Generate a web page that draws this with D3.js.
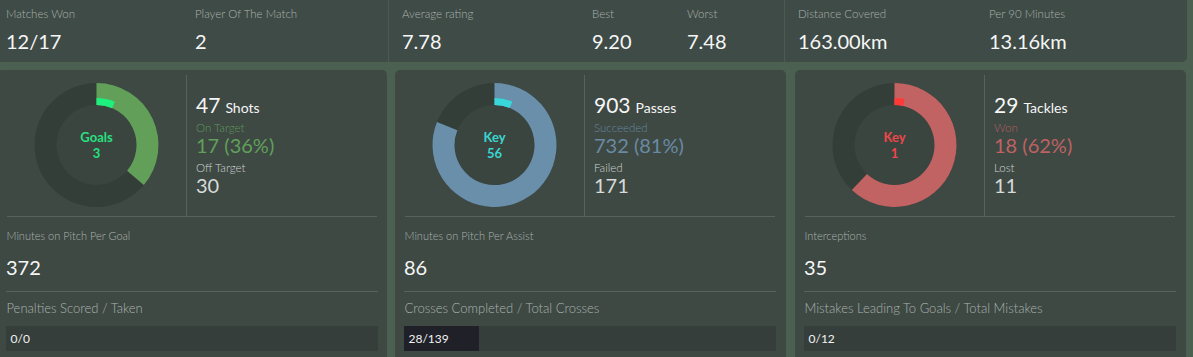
<!DOCTYPE html>
<html>
<head>
<meta charset="utf-8">
<script src="https://cdn.jsdelivr.net/npm/d3@7"></script>
<style>
html,body{margin:0;padding:0;background:#4c6052;}
svg{display:block;font-family:Lato,"Noto Sans",sans-serif;}
</style>
</head>
<body>
<svg id="chart" width="1193" height="357"></svg>
<script>
// ---- data ----
const topLabels = ["Matches Won","Player Of The Match","Average rating","Best","Worst","Distance Covered","Per 90 Minutes"];
const topValues = ["12/17","2","7.78","9.20","7.48","163.00km","13.16km"];

const donutNames = ["Shots","Passes","Tackles"];
const donutTotals = [47, 903, 29];
const donutSuccess = [17, 732, 18];
const donutKey = [3, 56, 1];
const keyLabels = ["Goals","Key","Key"];
const successLabels = ["On Target","Succeeded","Won"];
const failLabels = ["Off Target","Failed","Lost"];

const midLabels = ["Minutes on Pitch Per Goal","Minutes on Pitch Per Assist","Interceptions"];
const midValues = [372, 86, 35];

const barLabels = ["Penalties Scored / Taken","Crosses Completed / Total Crosses","Mistakes Leading To Goals / Total Mistakes"];
const barDone = [0, 28, 0];
const barTotal = [0, 139, 12];

// ---- styling / layout ----
const mainCol = ["#62a05a","#6a8fab","#c26363"];
const keyCol = ["#1df07c","#38d8d8","#ff3838"];
const keyTextCol = ["#28e07f","#3ad6d0","#ef4648"];
const succLabelCol = ["#5d9757","#67869e","#b35e5e"];
const succValCol = ["#60a05a","#6a8aa3","#bf6262"];

const svg = d3.select("#chart");
svg.append("rect").attr("width",1193).attr("height",357).attr("fill","#4c6052");

// top bar
svg.append("rect").attr("x",-6).attr("y",-6).attr("width",1193).attr("height",68).attr("rx",5).attr("fill","#3f4b46");
[388,784].forEach(x=>svg.append("line").attr("x1",x+0.5).attr("x2",x+0.5).attr("y1",0).attr("y2",62).attr("stroke","#4d5a54"));
const topX = [6,195,402,592,687,798,989];
topLabels.forEach((t,i)=>{
  svg.append("text").attr("x",topX[i]).attr("y",18).attr("font-size",11.5).attr("font-weight",300).attr("fill","#aab1ad").text(t);
  svg.append("text").attr("x",topX[i]).attr("y",49).attr("font-size",20).attr("fill","#f6f6f6").text(topValues[i]);
});

// lower panels
const panelX = [-3,395,795];
panelX.forEach((px,i)=>{
  const g = svg.append("g").attr("transform",`translate(${px},0)`);
  g.append("rect").attr("x",0).attr("y",70).attr("width",i===0?390:391).attr("height",300).attr("rx",5).attr("fill","#3e4944");

  // donut
  const cx = 99.5, cy = 145;
  const ang = d3.scaleLinear().domain([0,donutTotals[i]]).range([0,2*Math.PI]);
  const dg = g.append("g").attr("transform",`translate(${cx},${cy})`);
  dg.append("circle").attr("r",40).attr("fill","#3a4540");
  dg.append("path").attr("d",d3.arc()({innerRadius:40,outerRadius:62,startAngle:0,endAngle:2*Math.PI})).attr("fill","#343e39");
  dg.append("path").attr("d",d3.arc()({innerRadius:40,outerRadius:62,startAngle:0,endAngle:ang(donutSuccess[i])})).attr("fill",mainCol[i]);
  dg.append("path").attr("d",d3.arc()({innerRadius:40,outerRadius:47,startAngle:0,endAngle:ang(donutKey[i])})).attr("fill",keyCol[i]);
  dg.append("text").attr("text-anchor","middle").attr("y",-3).attr("font-size",13).attr("font-weight",700).attr("fill",keyTextCol[i]).text(keyLabels[i]);
  dg.append("text").attr("text-anchor","middle").attr("y",13).attr("font-size",13).attr("font-weight",700).attr("fill",keyTextCol[i]).text(donutKey[i]);

  // divider lines
  g.append("line").attr("x1",189.5).attr("x2",189.5).attr("y1",75).attr("y2",216).attr("stroke","#56625c");
  g.append("line").attr("x1",10).attr("x2",380).attr("y1",216.5).attr("y2",216.5).attr("stroke","#56625c");

  // right stats
  const tx = 199;
  const t1 = g.append("text").attr("x",tx).attr("y",113).attr("fill","#f6f6f6");
  t1.append("tspan").attr("font-size",21).text(donutTotals[i]);
  t1.append("tspan").attr("font-size",14).attr("dx",5).text(donutNames[i]);
  g.append("text").attr("x",tx).attr("y",132).attr("font-size",11.5).attr("font-weight",300).attr("fill",succLabelCol[i]).text(successLabels[i]);
  const pct = Math.round(donutSuccess[i]/donutTotals[i]*100);
  g.append("text").attr("x",tx).attr("y",153).attr("font-size",20).attr("fill",succValCol[i]).text(`${donutSuccess[i]} (${pct}%)`);
  g.append("text").attr("x",tx).attr("y",172).attr("font-size",11.5).attr("font-weight",300).attr("fill","#cfd3d1").text(failLabels[i]);
  g.append("text").attr("x",tx).attr("y",193).attr("font-size",20).attr("fill","#d6dad8").text(donutTotals[i]-donutSuccess[i]);

  // middle stat
  g.append("text").attr("x",9.5).attr("y",240).attr("font-size",11).attr("font-weight",300).attr("fill","#aab1ad").text(midLabels[i]);
  g.append("text").attr("x",9).attr("y",275).attr("font-size",20).attr("fill","#f6f6f6").text(midValues[i]);
  g.append("line").attr("x1",9).attr("x2",381).attr("y1",291.5).attr("y2",291.5).attr("stroke","#56625c");

  // bar
  g.append("text").attr("x",9.5).attr("y",313).attr("font-size",13).attr("font-weight",300).attr("fill","#aab1ad").text(barLabels[i]);
  const bw = 372;
  const xs = d3.scaleLinear().domain([0, barTotal[i]||1]).range([0,bw]);
  g.append("rect").attr("x",9).attr("y",326).attr("width",bw).attr("height",25).attr("fill","#353e3a");
  g.append("rect").attr("x",9).attr("y",326).attr("width",xs(barDone[i])).attr("height",25).attr("fill","#1f2028");
  g.append("text").attr("x",13.5).attr("y",343).attr("font-size",12).attr("fill","#f2f2f2").text(`${barDone[i]}/${barTotal[i]}`);
});
</script>
</body>
</html>
